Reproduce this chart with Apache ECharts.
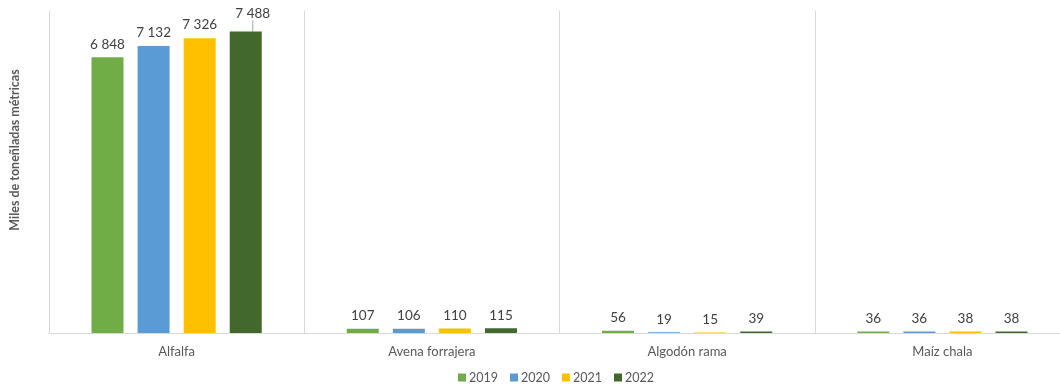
<!DOCTYPE html>
<html>
<head>
<meta charset="utf-8">
<script src="https://cdn.jsdelivr.net/npm/echarts@6/dist/echarts.min.js"></script>
<style>
  html, body { margin: 0; padding: 0; background: #fff; overflow: hidden; }
  /* the last category runs a little past the right edge of the window */
  #chart { width: 1072px; height: 391px; }
</style>
</head>
<body>
<div id="chart"></div>
<script>
// Producción de cultivos forrajeros (miles de toneladas métricas)
const categories = ['Alfalfa', 'Avena forrajera', 'Algodón rama', 'Maíz chala'];
const years = ['2019', '2020', '2021', '2022'];
const values2019 = [6848, 107, 56, 36];
const values2020 = [7132, 106, 19, 36];
const values2021 = [7326, 110, 15, 38];
const values2022 = [7488, 115, 39, 38];
const colors = ['#70AD47', '#5B9BD5', '#FFC000', '#43682B'];
const yAxisName = 'Miles de toneñladas métricas';

const FONT = 'Lato, "Liberation Sans", sans-serif';
const fmt = v => String(v).replace(/\B(?=(\d{3})+(?!\d))/g, ' ');

const seriesValues = [values2019, values2020, values2021, values2022];

// The tallest bar's label sits slightly up and right, tied back by a short leader line
function barData(i) {
  return seriesValues[i].map((v, j) =>
    (i === 3 && j === 0)
      ? { value: v, labelLine: { show: true, lineStyle: { color: '#A6A6A6', width: 1 } } }
      : v
  );
}

const chart = echarts.init(document.getElementById('chart'));
chart.setOption({
  animation: false,
  textStyle: { fontFamily: FONT },
  grid: { left: 46, right: 2, top: 11, bottom: 58, containLabel: false },
  legend: {
    data: years,
    left: 453,
    bottom: 2,
    itemWidth: 8,
    itemHeight: 8,
    itemGap: 12,
    icon: 'rect',
    textStyle: { color: '#595959', fontSize: 12.5, fontFamily: FONT, padding: [0, 0, 0, -2] }
  },
  xAxis: {
    type: 'category',
    data: categories,
    axisLine: { show: true, lineStyle: { color: '#D9D9D9', width: 1 } },
    axisTick: { show: false },
    splitLine: { show: true, interval: 0, lineStyle: { color: '#D9D9D9', width: 1 } },
    axisLabel: { color: '#595959', fontSize: 13, fontFamily: FONT, margin: 12 }
  },
  yAxis: {
    type: 'value',
    min: 0,
    max: 8000,
    interval: 1000,
    name: yAxisName,
    nameLocation: 'middle',
    nameGap: 28,
    nameTextStyle: {
      color: '#595959', fontSize: 12.5, fontWeight: 'bold', fontFamily: FONT,
      padding: [0, 0, 0, 44]
    },
    axisLine: { show: false },
    axisTick: { show: false },
    axisLabel: { show: false },
    splitLine: { show: false }
  },
  series: years.map((y, i) => ({
    name: y,
    type: 'bar',
    data: barData(i),
    barWidth: 32,
    barGap: '44%',
    itemStyle: { color: colors[i] },
    label: {
      show: true,
      position: 'top',
      distance: 6,
      color: '#404040',
      fontSize: 13.5,
      fontFamily: FONT,
      formatter: p => fmt(p.value)
    },
    labelLine: { show: false },
    labelLayout: i === 3
      ? (params => params.dataIndex === 0 ? { dx: 7, dy: -5 } : {})
      : undefined
  }))
});
</script>
</body>
</html>
